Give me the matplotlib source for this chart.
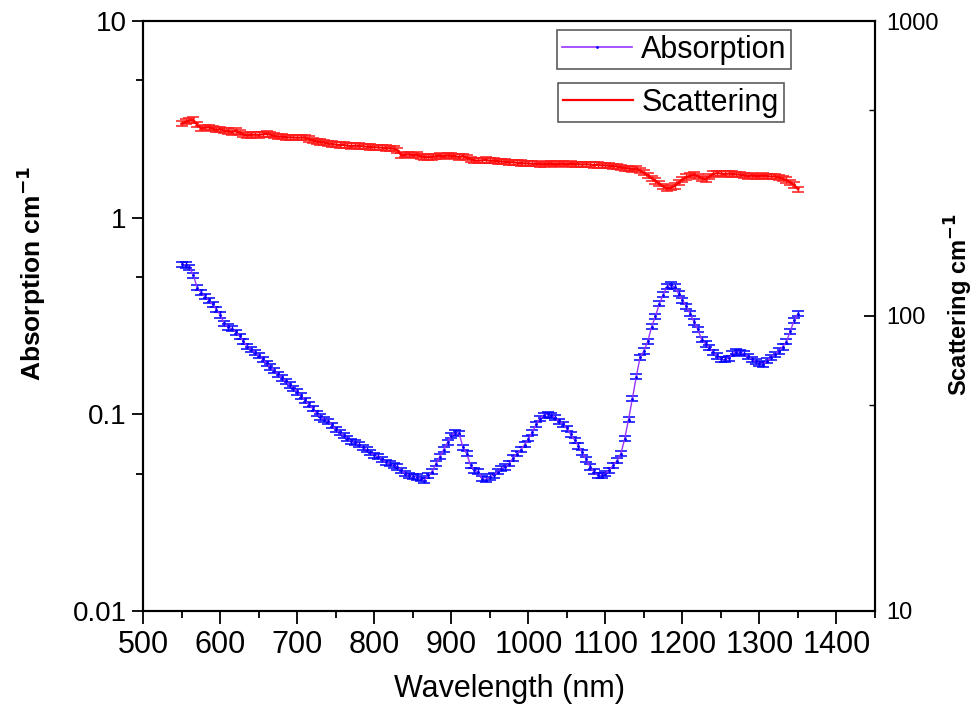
import matplotlib
matplotlib.use("Agg")
import matplotlib.pyplot as plt
from matplotlib.ticker import FixedLocator, FixedFormatter, NullFormatter
from matplotlib.lines import Line2D
import numpy as np

plt.rcParams['font.family'] = ['Liberation Sans', 'DejaVu Sans']

wavelength = list(range(550, 1351, 5))

absorption = [
    0.58, 0.575, 0.56, 0.51, 0.44, 0.415, 0.397, 0.38, 0.362, 0.34,
    0.32, 0.29, 0.278, 0.272, 0.262, 0.25, 0.235, 0.221, 0.213, 0.206,
    0.199, 0.19, 0.182, 0.174, 0.167, 0.16, 0.153, 0.147, 0.141, 0.136,
    0.13, 0.124, 0.118, 0.112, 0.107, 0.101, 0.097, 0.094, 0.092, 0.088,
    0.084, 0.081, 0.078, 0.075, 0.073, 0.072, 0.070, 0.068, 0.066, 0.064,
    0.062, 0.061, 0.059, 0.057, 0.056, 0.055, 0.054, 0.052, 0.050, 0.049,
    0.0485, 0.048, 0.047, 0.046, 0.049, 0.051, 0.056, 0.061, 0.066, 0.072,
    0.078, 0.081, 0.080, 0.068, 0.063, 0.055, 0.052, 0.051, 0.047, 0.0465,
    0.048, 0.049, 0.051, 0.053, 0.054, 0.056, 0.060, 0.063, 0.066, 0.070,
    0.075, 0.081, 0.089, 0.095, 0.099, 0.100, 0.099, 0.096, 0.092, 0.089,
    0.085, 0.079, 0.074, 0.069, 0.064, 0.059, 0.054, 0.051, 0.049, 0.049,
    0.050, 0.052, 0.055, 0.058, 0.063, 0.075, 0.094, 0.12, 0.155, 0.195,
    0.21, 0.235, 0.279, 0.315, 0.365, 0.405, 0.445, 0.455, 0.445, 0.41,
    0.38, 0.355, 0.325, 0.295, 0.27, 0.24, 0.228, 0.218, 0.207, 0.198,
    0.19, 0.19, 0.193, 0.203, 0.208, 0.207, 0.203, 0.196, 0.191, 0.186,
    0.182, 0.180, 0.187, 0.195, 0.202, 0.21, 0.22, 0.234, 0.265, 0.30,
    0.325,
]

scattering = [
    450, 455, 460, 462, 445, 432, 435, 436, 432, 428,
    430, 425, 424, 420, 424, 418, 412, 410, 411, 412,
    411, 413, 414, 412, 408, 406, 405, 404, 403, 403,
    402, 403, 402, 398, 394, 391, 389, 387, 385, 383,
    381, 380, 380, 378, 377, 378, 377, 376, 375, 374,
    373, 373, 372, 371, 370, 369, 365, 350, 352, 353,
    351, 352, 348, 346, 345, 346, 348, 349, 348, 350,
    349, 348, 346, 348, 344, 340, 337, 336, 337, 338,
    336, 336, 335, 334, 333, 332, 332, 331, 330, 329,
    329, 328, 328, 327, 327, 328, 328, 327, 328, 328,
    327, 328, 327, 327, 326, 327, 326, 325, 325, 324,
    324, 323, 322, 321, 319, 317, 316, 314, 316, 311,
    306, 300, 293, 287, 281, 275, 271, 272, 276, 283,
    291, 296, 299, 301, 298, 293, 291, 298, 303, 305,
    304, 303, 304, 303, 302, 301, 300, 298, 299, 298,
    298, 299, 298, 297, 297, 295, 292, 289, 284, 278,
    269,
]

abs_rel_err = 0.03
sca_rel_err = 0.02

x_ticks = [500, 600, 700, 800, 900, 1000, 1100, 1200, 1300, 1400]
left_ticks = [0.01, 0.1, 1, 10]
left_labels = ["0.01", "0.1", "1", "10"]
right_ticks = [10, 100, 1000]
right_labels = ["10", "100", "1000"]

wl = np.array(wavelength, dtype=float)
a = np.array(absorption)
s = np.array(scattering, dtype=float)

fig = plt.figure(figsize=(9.76, 7.12), dpi=100)
ax = fig.add_axes([0.1468, 0.1419, 0.7497, 0.8286])
ax2 = ax.twinx()

ax.errorbar(wl, a, yerr=a * abs_rel_err, color='#9933ff', lw=1.0,
            ecolor='#0000ff', elinewidth=1.0, capsize=4.5, capthick=1.1,
            marker='.', markersize=2, markerfacecolor='#0000ff',
            markeredgecolor='#0000ff', zorder=3)
ax2.errorbar(wl, s, yerr=s * sca_rel_err, color='#ff0000', lw=1.6,
             ecolor='#ff1a1a', elinewidth=1.0, capsize=4.5, capthick=1.1,
             zorder=3)

ax.set_xlim(500, 1450)
ax.set_yscale('log')
ax.set_ylim(0.01, 10)
ax2.set_yscale('log')
ax2.set_ylim(10, 1000)

ax.xaxis.set_major_locator(FixedLocator(x_ticks))
ax.xaxis.set_minor_locator(FixedLocator([t + 50 for t in x_ticks]))
ax.set_xticklabels([str(t) for t in x_ticks])

ax.yaxis.set_major_locator(FixedLocator(left_ticks))
ax.yaxis.set_major_formatter(FixedFormatter(left_labels))
ax.yaxis.set_minor_locator(FixedLocator([0.05, 0.5, 5]))
ax.yaxis.set_minor_formatter(NullFormatter())

ax2.yaxis.set_major_locator(FixedLocator(right_ticks))
ax2.yaxis.set_major_formatter(FixedFormatter(right_labels))
ax2.yaxis.set_minor_locator(FixedLocator([50, 500]))
ax2.yaxis.set_minor_formatter(NullFormatter())

ax.tick_params(axis='x', which='major', direction='out', length=9, width=1.3,
               labelsize=22, pad=5, top=False)
ax.tick_params(axis='x', which='minor', direction='out', length=5, width=1.3, top=False)
ax.tick_params(axis='y', which='major', direction='out', length=8, width=1.3,
               labelsize=20, pad=4, right=False)
ax.tick_params(axis='y', which='minor', direction='out', length=5, width=1.3, right=False)
ax2.tick_params(axis='y', which='major', direction='in', length=8, width=1.3,
                labelsize=17, pad=8)
ax2.tick_params(axis='y', which='minor', direction='in', length=4, width=1.0)

for sp in ax.spines.values():
    sp.set_linewidth(1.5)
for sp in ax2.spines.values():
    sp.set_linewidth(1.5)

ax.set_xlabel("Wavelength (nm)", fontsize=22, labelpad=10)
ax.set_ylabel(r"Absorption cm$^{\mathbf{-1}}$", fontsize=19, fontweight='bold')
ax2.set_ylabel(r"Scattering cm$^{\mathbf{-1}}$", fontsize=17, fontweight='bold')
ax.yaxis.set_label_coords((48 - 143.3) / 731.7, 1 - (273 - 21) / 590)
ax2.yaxis.set_label_coords((943 - 143.3) / 731.7, 1 - (305 - 21) / 590)

h1 = Line2D([], [], color='#9933ff', lw=1.2, marker='.', markersize=2,
            markerfacecolor='#0000ff', markeredgecolor='#0000ff', markevery=[1])
h2 = Line2D([], [], color='#ff0000', lw=1.6)

leg_kw = dict(loc='upper left', fontsize=22, frameon=True, fancybox=False,
              edgecolor='#333333', handlelength=2.3, borderpad=0.15,
              handletextpad=0.3, borderaxespad=0)
leg1 = fig.legend([h1], ["Absorption"],
                  bbox_to_anchor=(557 / 976, 1 - 30 / 712), **leg_kw)
leg1.get_frame().set_linewidth(1.2)
leg2 = fig.legend([h2], ["Scattering"],
                  bbox_to_anchor=(558 / 976, 1 - 83 / 712), **leg_kw)
leg2.get_frame().set_linewidth(1.2)

fig.savefig("out.png", dpi=100)
